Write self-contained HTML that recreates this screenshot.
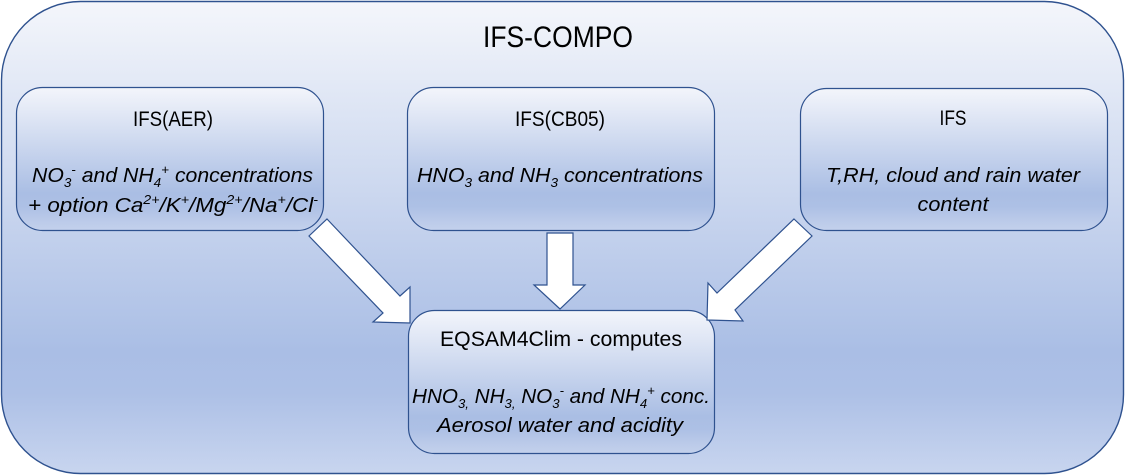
<!DOCTYPE html>
<html>
<head>
<meta charset="utf-8">
<style>
  html,body{margin:0;padding:0;background:#ffffff;}
  svg{display:block;}
  text{font-family:"Liberation Sans", Arial, sans-serif; fill:#000;}
  .it{font-style:italic;}
</style>
</head>
<body>
<svg width="1125" height="476" viewBox="0 0 1125 476" xmlns="http://www.w3.org/2000/svg">
  <defs>
    <linearGradient id="gOuter" x1="0" y1="0" x2="0" y2="1">
      <stop offset="0" stop-color="#f4f6fb"/>
      <stop offset="0.74" stop-color="#aabee5"/>
      <stop offset="0.83" stop-color="#adc0e6"/>
      <stop offset="1" stop-color="#c8d5ef"/>
    </linearGradient>
    <linearGradient id="gBox" x1="0" y1="0" x2="0" y2="1">
      <stop offset="0" stop-color="#f3f5fb"/>
      <stop offset="0.74" stop-color="#aabee4"/>
      <stop offset="0.83" stop-color="#adc0e5"/>
      <stop offset="1" stop-color="#c4d1ec"/>
    </linearGradient>
  </defs>

  <!-- outer container -->
  <rect x="1.5" y="1.5" width="1122" height="472" rx="79" ry="79" fill="url(#gOuter)" stroke="#2f528f" stroke-width="1.4"/>

  <text x="558" y="47" font-size="30" text-anchor="middle" textLength="150" lengthAdjust="spacingAndGlyphs">IFS-COMPO</text>

  <!-- IFS(AER) -->
  <rect x="16.5" y="87.5" width="307" height="143" rx="26" ry="26" fill="url(#gBox)" stroke="#2f528f" stroke-width="1.2"/>
  <text x="173" y="126" font-size="21" text-anchor="middle" textLength="80" lengthAdjust="spacingAndGlyphs">IFS(AER)</text>
  <text class="it" x="172.5" y="182" font-size="20.5" text-anchor="middle" textLength="281" lengthAdjust="spacingAndGlyphs">NO<tspan font-size="13" dy="5">3</tspan><tspan font-size="13" dy="-13">-</tspan><tspan dy="8"> and NH</tspan><tspan font-size="13" dy="5">4</tspan><tspan font-size="13" dy="-13">+</tspan><tspan dy="8"> concentrations</tspan></text>
  <text class="it" x="173" y="212" font-size="20.5" text-anchor="middle" textLength="290" lengthAdjust="spacingAndGlyphs">+ option Ca<tspan font-size="13" dy="-8">2+</tspan><tspan dy="8">/K</tspan><tspan font-size="13" dy="-8">+</tspan><tspan dy="8">/Mg</tspan><tspan font-size="13" dy="-8">2+</tspan><tspan dy="8">/Na</tspan><tspan font-size="13" dy="-8">+</tspan><tspan dy="8">/Cl</tspan><tspan font-size="13" dy="-8">-</tspan></text>

  <!-- IFS(CB05) -->
  <rect x="407.5" y="87.5" width="307" height="143" rx="26" ry="26" fill="url(#gBox)" stroke="#2f528f" stroke-width="1.2"/>
  <text x="560" y="126" font-size="21" text-anchor="middle" textLength="90" lengthAdjust="spacingAndGlyphs">IFS(CB05)</text>
  <text class="it" x="560" y="182" font-size="20.5" text-anchor="middle" textLength="286" lengthAdjust="spacingAndGlyphs">HNO<tspan font-size="13" dy="5">3</tspan><tspan dy="-5"> and NH</tspan><tspan font-size="13" dy="5">3</tspan><tspan dy="-5"> concentrations</tspan></text>

  <!-- IFS -->
  <rect x="800.5" y="88.5" width="307" height="142" rx="26" ry="26" fill="url(#gBox)" stroke="#2f528f" stroke-width="1.2"/>
  <text x="953" y="125" font-size="21" text-anchor="middle" textLength="27" lengthAdjust="spacingAndGlyphs">IFS</text>
  <text class="it" x="953" y="182" font-size="20.5" text-anchor="middle" textLength="254" lengthAdjust="spacingAndGlyphs">T,RH, cloud and rain water</text>
  <text class="it" x="953" y="211" font-size="20.5" text-anchor="middle" textLength="71" lengthAdjust="spacingAndGlyphs">content</text>

  <!-- EQSAM4Clim -->
  <rect x="408.5" y="310.5" width="306" height="143" rx="26" ry="26" fill="url(#gBox)" stroke="#2f528f" stroke-width="1.2"/>
  <text x="561" y="346" font-size="21" text-anchor="middle" textLength="242" lengthAdjust="spacingAndGlyphs">EQSAM4Clim - computes</text>
  <text class="it" x="561" y="403" font-size="20.5" text-anchor="middle" textLength="298" lengthAdjust="spacingAndGlyphs">HNO<tspan font-size="13" dy="5">3,</tspan><tspan dy="-5"> NH</tspan><tspan font-size="13" dy="5">3,</tspan><tspan dy="-5"> NO</tspan><tspan font-size="13" dy="5">3</tspan><tspan font-size="13" dy="-13">-</tspan><tspan dy="8"> and NH</tspan><tspan font-size="13" dy="5">4</tspan><tspan font-size="13" dy="-13">+</tspan><tspan dy="8"> conc.</tspan></text>
  <text class="it" x="560" y="432" font-size="20.5" text-anchor="middle" textLength="246" lengthAdjust="spacingAndGlyphs">Aerosol water and acidity</text>

  <!-- arrows -->
  <polygon points="327,219 400,296 410,287 410,323 373,322 383,313 309,236" fill="#ffffff" stroke="#2f528f" stroke-width="1.2" stroke-linejoin="miter"/>
  <polygon points="547,233 573,233 573,285 585,285 560,309 534,285 547,285" fill="#ffffff" stroke="#2f528f" stroke-width="1.2" stroke-linejoin="miter"/>
  <polygon points="794,219 812,236 735,310 743,321 707,320 708,283 717,293" fill="#ffffff" stroke="#2f528f" stroke-width="1.2" stroke-linejoin="miter"/>
</svg>
</body>
</html>
